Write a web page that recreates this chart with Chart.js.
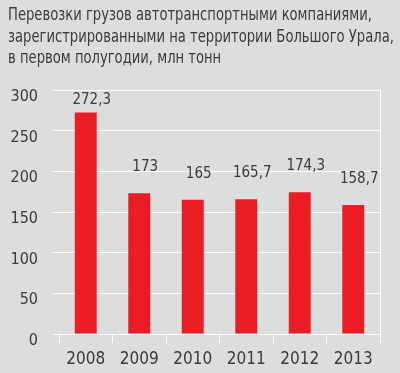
<!DOCTYPE html>
<html>
<head>
<meta charset="utf-8">
<script src="https://cdn.jsdelivr.net/npm/chart.js@4"></script>
<style>
  html, body { margin: 0; padding: 0; background: #dcddde; }
  #wrap { position: relative; width: 400px; height: 373px; }
  #title {
    position: absolute; left: 8px; top: 4px;
    font-family: 'DejaVu Sans Condensed', sans-serif;
    font-size: 17px; line-height: 21.5px; color: #3a3a3a;
    white-space: nowrap;
  }
  #title div { transform: scaleX(0.86); transform-origin: left center; }
</style>
</head>
<body>
<div id="wrap">
  <canvas id="chart" width="400" height="373"></canvas>
  <div id="title"></div>
</div>
<script>
const years = ["2008", "2009", "2010", "2011", "2012", "2013"];
const values = [272.3, 173, 165, 165.7, 174.3, 158.7];
const yTicks = [0, 50, 100, 150, 200, 250, 300];
const titleLines = [
    "Перевозки грузов автотранспортными компаниями,",
    "зарегистрированными на территории Большого Урала,",
    "в первом полугодии, млн тонн"
];

const FONT = "'DejaVu Sans Condensed', sans-serif";
const TEXT = "#3a3a3a";

document.getElementById("title").innerHTML = titleLines.map(l => `<div>${l}</div>`).join("");

const valueLabels = {
    id: "valueLabels",
    afterDatasetsDraw(chart) {
        const ctx = chart.ctx;
        const meta = chart.getDatasetMeta(0);
        ctx.save();
        ctx.font = "15px " + FONT;
        ctx.fillStyle = TEXT;
        ctx.textAlign = "center";
        ctx.textBaseline = "middle";
        meta.data.forEach((bar, i) => {
            const txt = String(values[i]).replace(".", ",");
            const y = Math.max(bar.y - 26, chart.chartArea.top + 10);
            ctx.fillText(txt, bar.x + 6, y);
        });
        ctx.restore();
    }
};

const rightBorder = {
    id: "rightBorder",
    beforeDatasetsDraw(chart) {
        const { ctx, chartArea } = chart;
        ctx.save();
        ctx.strokeStyle = "#ffffff";
        ctx.lineWidth = 1;
        ctx.beginPath();
        ctx.moveTo(chartArea.right + 0.5, chartArea.top);
        ctx.lineTo(chartArea.right + 0.5, chartArea.bottom + 9);
        ctx.stroke();
        ctx.restore();
    }
};

new Chart(document.getElementById("chart"), {
    type: "bar",
    data: {
        labels: years,
        datasets: [{
            data: values,
            backgroundColor: "#ec1c24",
            barPercentage: 0.41,
            categoryPercentage: 1
        }]
    },
    options: {
        responsive: false,
        animation: false,
        layout: { padding: { left: 8, right: 20, top: 90, bottom: 0 } },
        plugins: {
            legend: { display: false },
            tooltip: { enabled: false },
            title: { display: false }
        },
        scales: {
            x: {
                grid: {
                    offset: true,
                    drawOnChartArea: false,
                    color: "#ffffff",
                    tickLength: 9
                },
                border: { display: true, color: "#ffffff" },
                ticks: {
                    color: TEXT,
                    font: { family: FONT, size: 17 },
                    padding: 6
                },
                afterFit(scale) { scale.height = 39; }
            },
            y: {
                min: 0,
                max: 300,
                afterBuildTicks(scale) { scale.ticks = yTicks.map(v => ({ value: v })); },
                grid: { color: "#ffffff", tickLength: 6 },
                border: { display: false },
                ticks: {
                    color: TEXT,
                    font: { family: FONT, size: 16 },
                    padding: 15,
                    labelOffset: 7
                },
                afterFit(scale) { scale.width = 51; }
            }
        }
    },
    plugins: [valueLabels, rightBorder]
});
</script>
</body>
</html>
